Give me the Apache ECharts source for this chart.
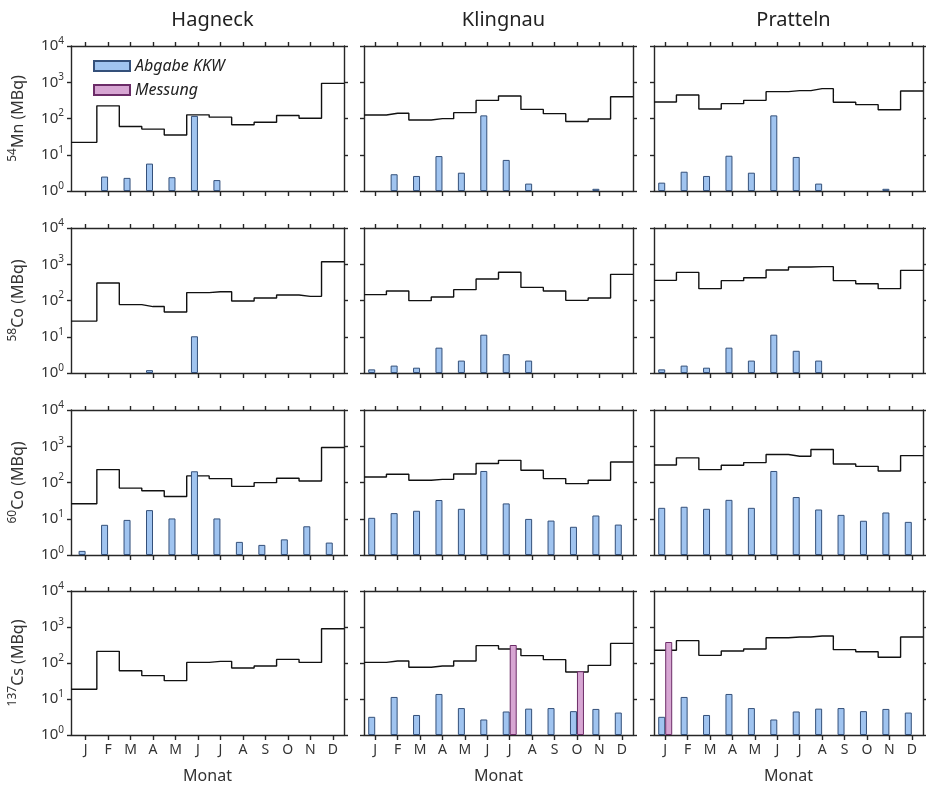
<!DOCTYPE html>
<html>
<head>
<meta charset="utf-8">
<script src="https://cdn.jsdelivr.net/npm/echarts@6/dist/echarts.min.js"></script>
<style>
  html, body { margin: 0; padding: 0; background: #fff; }
  #chart { width: 926px; height: 785px; }
</style>
</head>
<body>
<div id="chart"></div>
<script>
  // Monate und Standorte
  const months = ['J', 'F', 'M', 'A', 'M', 'J', 'J', 'A', 'S', 'O', 'N', 'D'];
  const sites = ['Hagneck', 'Klingnau', 'Pratteln'];
  const isoMass = ['54', '58', '60', '137'];
  const isoSym = ['Mn', 'Co', 'Co', 'Cs'];

  // 54Mn
  const hagneckMn54 = [22, 223, 60, 51, 35, 126, 109, 67, 79, 121, 102, 933];
  const hagneckMn54Kkw = [null, 2.5, 2.3, 5.7, 2.4, 118, 2.0, null, null, null, null, null];
  const klingnauMn54 = [125, 139, 91, 99, 145, 316, 417, 178, 136, 83, 97, 400];
  const klingnauMn54Kkw = [null, 2.9, 2.6, 9.2, 3.2, 122, 7.2, 1.6, null, null, 1.15, null];
  const prattelnMn54 = [285, 443, 183, 257, 317, 550, 586, 665, 280, 241, 174, 574];
  const prattelnMn54Kkw = [1.7, 3.4, 2.6, 9.4, 3.2, 122, 8.7, 1.6, null, null, 1.15, null];

  // 58Co
  const hagneckCo58 = [27, 303, 77, 68, 48, 165, 175, 97, 117, 142, 130, 1170];
  const hagneckCo58Kkw = [null, null, null, 1.2, null, 10.3, null, null, null, null, null, null];
  const klingnauCo58 = [145, 183, 99, 125, 199, 391, 600, 230, 183, 101, 117, 527];
  const klingnauCo58Kkw = [1.26, 1.6, 1.4, 5.0, 2.2, 11.4, 3.3, 2.2, null, null, null, null];
  const prattelnCo58 = [360, 596, 212, 353, 426, 694, 836, 859, 353, 290, 212, 678];
  const prattelnCo58Kkw = [1.26, 1.6, 1.4, 5.0, 2.2, 11.4, 4.1, 2.2, null, null, null, null];

  // 60Co
  const hagneckCo60 = [26, 227, 70, 59, 41, 152, 128, 78, 99, 131, 110, 925];
  const hagneckCo60Kkw = [1.3, 6.8, 9.3, 17.3, 10.2, 204, 10.2, 2.3, 1.9, 2.7, 6.2, 2.2];
  const klingnauCo60 = [142, 169, 115, 122, 172, 333, 409, 217, 128, 93, 115, 369];
  const klingnauCo60Kkw = [10.6, 14.3, 16.6, 32.9, 18.8, 208, 26.5, 9.9, 8.9, 6.0, 12.3, 6.9];
  const prattelnCo60 = [305, 479, 227, 299, 354, 591, 532, 811, 325, 279, 208, 552];
  const prattelnCo60Kkw = [20, 21.4, 18.8, 33.2, 20, 208, 39.7, 18.0, 12.8, 8.8, 14.9, 8.2];

  // 137Cs
  const hagneckCs137 = [18.6, 211, 61, 44.6, 32.3, 104, 111, 72.6, 82.6, 126, 104, 896];
  const hagneckCs137Kkw = [null, null, null, null, null, null, null, null, null, null, null, null];
  const klingnauCs137 = [104, 114, 76, 82.6, 114, 303, 245, 160, 124, 56, 86, 350];
  const klingnauCs137Kkw = [3.2, 11.4, 3.6, 13.8, 5.6, 2.7, 4.5, 5.4, 5.6, 4.6, 5.3, 4.2];
  const klingnauCs137Messung = [null, null, null, null, null, null, 316, null, null, 59, null, null];
  const prattelnCs137 = [225, 418, 163, 215, 245, 505, 528, 564, 235, 206, 144, 528];
  const prattelnCs137Kkw = [3.2, 11.4, 3.6, 13.8, 5.6, 2.7, 4.5, 5.4, 5.6, 4.6, 5.3, 4.2];
  const prattelnCs137Messung = [383, null, null, null, null, null, null, null, null, null, null, null];

  const noMessung = [null, null, null, null, null, null, null, null, null, null, null, null];

  // Zeilen = Nuklid, Spalten = Standort
  const panels = [
    [[hagneckMn54, hagneckMn54Kkw, noMessung], [klingnauMn54, klingnauMn54Kkw, noMessung], [prattelnMn54, prattelnMn54Kkw, noMessung]],
    [[hagneckCo58, hagneckCo58Kkw, noMessung], [klingnauCo58, klingnauCo58Kkw, noMessung], [prattelnCo58, prattelnCo58Kkw, noMessung]],
    [[hagneckCo60, hagneckCo60Kkw, noMessung], [klingnauCo60, klingnauCo60Kkw, noMessung], [prattelnCo60, prattelnCo60Kkw, noMessung]],
    [[hagneckCs137, hagneckCs137Kkw, noMessung], [klingnauCs137, klingnauCs137Kkw, klingnauCs137Messung], [prattelnCs137, prattelnCs137Kkw, prattelnCs137Messung]]
  ];

  const FONT = 'Noto Sans';
  const colLeft = [71, 364, 654];
  const colWidth = [273, 269, 269];
  const rowTop = [46, 228, 410, 591];
  const rowHeight = 145;
  const xMin = [0.35, 0.5, 0.5];
  const xMax = 12.5;
  const monthPos = months.map((m, i) => i + 1);
  const frame = { color: '#262626', width: 1.4 };

  const chart = echarts.init(document.getElementById('chart'));

  const grids = [], xAxes = [], yAxes = [], series = [];

  panels.forEach((row, r) => {
    row.forEach((p, c) => {
      const g = grids.length;
      grids.push({ left: colLeft[c], top: rowTop[r], width: colWidth[c], height: rowHeight });

      // unten + oben
      xAxes.push({
        gridIndex: g, type: 'value', min: xMin[c], max: xMax,
        axisLine: { show: true, onZero: false, lineStyle: frame },
        axisTick: { show: true, customValues: monthPos, length: 5, lineStyle: frame },
        axisLabel: {
          show: r === 3, customValues: monthPos, margin: 8,
          formatter: v => months[v - 1], fontFamily: FONT, fontSize: 14, color: '#333'
        },
        splitLine: { show: false },
        name: r === 3 ? 'Monat' : '', nameLocation: 'middle', nameGap: 33,
        nameTextStyle: { fontFamily: FONT, fontSize: 16, color: '#333' }
      });
      xAxes.push({
        gridIndex: g, type: 'value', position: 'top', min: xMin[c], max: xMax,
        axisLine: { show: true, onZero: false, lineStyle: frame },
        axisTick: { show: true, customValues: monthPos, length: 4, lineStyle: frame },
        axisLabel: { show: false },
        splitLine: { show: false }
      });

      // links + rechts
      yAxes.push({
        gridIndex: g, type: 'log', logBase: 10, min: 1, max: 10000,
        axisLine: { show: true, lineStyle: frame },
        axisTick: { show: true, length: 4, lineStyle: frame },
        axisLabel: {
          show: c === 0, margin: 7,
          formatter: v => '{b|10}{s|' + Math.round(Math.log10(v)) + '}',
          rich: {
            b: { fontFamily: FONT, fontSize: 15, color: '#333', lineHeight: 20 },
            s: { fontFamily: FONT, fontSize: 10, color: '#333', verticalAlign: 'top', lineHeight: 12 }
          }
        },
        splitLine: { show: false },
        name: c === 0 ? '{s|' + isoMass[r] + '}{b|' + isoSym[r] + ' (MBq)}' : '',
        nameLocation: 'middle', nameRotate: 90, nameGap: 42,
        nameTextStyle: {
          fontFamily: FONT, fontSize: 16, color: '#333',
          rich: {
            b: { fontFamily: FONT, fontSize: 16, color: '#333', lineHeight: 22 },
            s: { fontFamily: FONT, fontSize: 12, color: '#333', verticalAlign: 'top', lineHeight: 13 }
          }
        }
      });
      yAxes.push({
        gridIndex: g, type: 'log', logBase: 10, min: 1, max: 10000, position: 'right',
        axisLine: { show: true, lineStyle: frame },
        axisTick: { show: true, length: 4, lineStyle: frame },
        axisLabel: { show: false },
        splitLine: { show: false }
      });

      const xi = 2 * g, yi = 2 * g;
      const steps = p[0];
      const lineData = [[xMin[c], steps[0]]]
        .concat(steps.map((v, i) => [i + 1, v]))
        .concat([[xMax, steps[steps.length - 1]]]);

      series.push({
        name: 'Grenzwert', type: 'line', xAxisIndex: xi, yAxisIndex: yi,
        step: 'middle', showSymbol: false, symbol: 'none', z: 1,
        lineStyle: { color: '#111', width: 1.4 },
        data: lineData, silent: true
      });
      series.push({
        name: 'Abgabe KKW', type: 'bar', xAxisIndex: xi, yAxisIndex: yi,
        barWidth: 7, barGap: '0%', z: 3,
        itemStyle: { color: '#a0c4f0', borderColor: '#34507a', borderWidth: 1 },
        data: p[1].map((v, i) => [i + 1, v == null ? '-' : v])
      });
      series.push({
        name: 'Messung', type: 'bar', xAxisIndex: xi, yAxisIndex: yi,
        barWidth: 7, barGap: '0%', z: 3,
        itemStyle: { color: '#d7a6d3', borderColor: '#6c2c68', borderWidth: 1 },
        data: p[2].map((v, i) => [i + 1, v == null ? '-' : v])
      });
    });
  });

  const titles = sites.map((s, c) => ({
    text: s, left: colLeft[c] + colWidth[c] / 2, top: 5, textAlign: 'center',
    textStyle: { fontFamily: FONT, fontSize: 20, fontWeight: 'normal', color: '#222' }
  }));

  chart.setOption({
    animation: false,
    backgroundColor: '#fff',
    title: titles,
    legend: {
      data: [{ name: 'Abgabe KKW', icon: 'rect' }, { name: 'Messung', icon: 'rect' }],
      orient: 'vertical', left: 88, top: 53,
      itemWidth: 36, itemHeight: 10, itemGap: 8,
      textStyle: { fontFamily: FONT, fontSize: 16, fontStyle: 'italic', color: '#222' },
      selectedMode: false
    },
    grid: grids,
    xAxis: xAxes,
    yAxis: yAxes,
    series: series
  });
</script>
</body>
</html>
